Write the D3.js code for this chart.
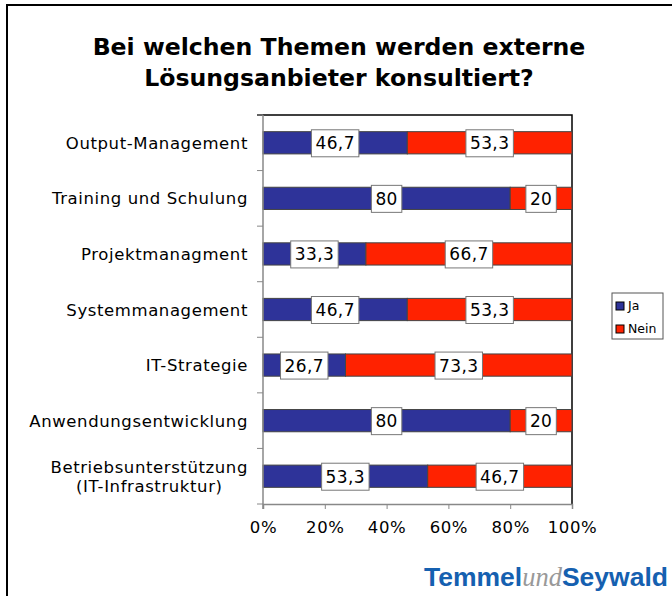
<!DOCTYPE html>
<html><head><meta charset="utf-8">
<script src="https://cdn.jsdelivr.net/npm/d3@7"></script>
<style>body{margin:0;background:#fff}</style>
</head><body>
<svg id="c" width="672" height="596"></svg>
<script>
const categories = [["Output-Management"],["Training und Schulung"],["Projektmanagment"],["Systemmanagement"],["IT-Strategie"],["Anwendungsentwicklung"],["Betriebsunterstützung","(IT-Infrastruktur)"]];
const ja = [46.7, 80, 33.3, 46.7, 26.7, 80, 53.3];
const nein = [53.3, 20, 66.7, 53.3, 73.3, 20, 46.7];
const seriesNames = ["Ja","Nein"];
const seriesColors = ["#2e3399","#ff2200"];
const xTicks = [0,20,40,60,80,100];
const titleLines = ["Bei welchen Themen werden externe","Lösungsanbieter konsultiert?"];

const svg = d3.select("#c");
svg.append("path").attr("d","M7,600V5H672").attr("fill","none").attr("stroke","#000").attr("stroke-width",2);

svg.append("text").attr("text-anchor","middle")
  .attr("font-family","DejaVu Sans").attr("font-weight","bold").attr("font-size",23.6)
  .selectAll("tspan").data(titleLines).join("tspan")
  .attr("x",339).attr("y",(d,i)=>55+i*31).text(d=>d);

const L=263,R=572,T=115,B=504;
const x = d3.scaleLinear().domain([0,100]).range([L,R]);
const y = d3.scaleBand().domain(d3.range(categories.length)).range([T,B]).paddingInner(0.6).paddingOuter(0.3);

svg.append("path").attr("d",`M${L-6},${T}H${R}V${B}`).attr("fill","none").attr("stroke","#000").attr("stroke-width",1.5);

const stack = categories.map((c,i)=>[{s:0,x0:0,x1:ja[i],v:ja[i]},{s:1,x0:ja[i],x1:100,v:nein[i]}]);
const g = svg.append("g");
stack.forEach((segs,i)=>{
  segs.forEach(d=>{
    g.append("rect").attr("x",x(d.x0)).attr("y",y(i)).attr("width",x(d.x1)-x(d.x0)).attr("height",y.bandwidth())
      .attr("fill",seriesColors[d.s]).attr("stroke","#444").attr("stroke-width",1);
  });
});
const fmt = v => String(v).replace(".",",");
stack.forEach((segs,i)=>{
  segs.forEach(d=>{
    const cx = (x(d.x0)+x(d.x1))/2, cy = y(i)+y.bandwidth()/2;
    const t = g.append("text").attr("x",cx).attr("y",cy+6.5).attr("text-anchor","middle")
      .attr("font-family","DejaVu Sans").attr("font-size",17).attr("letter-spacing",0.4).attr("fill","#000").text(fmt(d.v));
    const bb = t.node().getBBox();
    g.insert("rect", () => t.node()).attr("x",cx-bb.width/2-4).attr("y",cy-13).attr("width",bb.width+8).attr("height",27)
      .attr("fill","#fff").attr("stroke","#777").attr("stroke-width",1);
  });
});

const ya = svg.append("g");
ya.append("line").attr("x1",L).attr("x2",L).attr("y1",T).attr("y2",B+5).attr("stroke","#888").attr("stroke-width",1.5);
d3.range(categories.length+1).forEach(k=>{
  const yy = T + k*(B-T)/categories.length;
  ya.append("line").attr("x1",L-6).attr("x2",L).attr("y1",yy).attr("y2",yy).attr("stroke","#888");
});
categories.forEach((c,i)=>{
  const cy = y(i)+y.bandwidth()/2;
  const t = ya.append("text").attr("font-family","DejaVu Sans").attr("font-size",16.5).attr("letter-spacing",0.6).attr("fill","#000");
  const spans = c.map((line,j)=> t.append("tspan").attr("x",248).attr("text-anchor","end")
      .attr("y", cy+6 + (j-(c.length-1)/2)*19).text(line));
  if (c.length>1) {
    const w0 = spans[0].node().getComputedTextLength();
    const center = 248 - w0/2;
    spans.forEach(s=>s.attr("x",center).attr("text-anchor","middle"));
  }
});

const xa = svg.append("g").attr("transform",`translate(0,${B})`)
  .call(d3.axisBottom(x).tickValues(xTicks).tickSize(5).tickFormat(d=>d+"%"));
xa.select(".domain").attr("stroke","#888").attr("stroke-width",1.5);
xa.selectAll(".tick line").attr("stroke","#888");
xa.selectAll("text").attr("font-family","DejaVu Sans").attr("font-size",16.5).attr("letter-spacing",0.6).attr("fill","#000").attr("dy","1.3em");

const lg = svg.append("g");
lg.append("rect").attr("x",612).attr("y",293).attr("width",51).attr("height",46).attr("fill","#fff").attr("stroke","#555");
seriesNames.forEach((n,i)=>{
  lg.append("rect").attr("x",616).attr("y",302+i*23).attr("width",8).attr("height",8).attr("fill",seriesColors[i]).attr("stroke","#000");
  lg.append("text").attr("x",628).attr("y",310+i*23).attr("font-family","DejaVu Sans").attr("font-size",12.5).attr("fill","#000").text(n);
});

const logo = svg.append("text").attr("x",668).attr("y",586).attr("text-anchor","end").attr("font-size",26.5);
logo.append("tspan").attr("font-family","Liberation Sans").attr("font-weight","bold").attr("fill","#1560b0").text("Temmel");
logo.append("tspan").attr("font-family","Liberation Serif").attr("font-style","italic").attr("fill","#999").text("und");
logo.append("tspan").attr("font-family","Liberation Sans").attr("font-weight","bold").attr("fill","#1560b0").text("Seywald");
</script>
</body></html>
